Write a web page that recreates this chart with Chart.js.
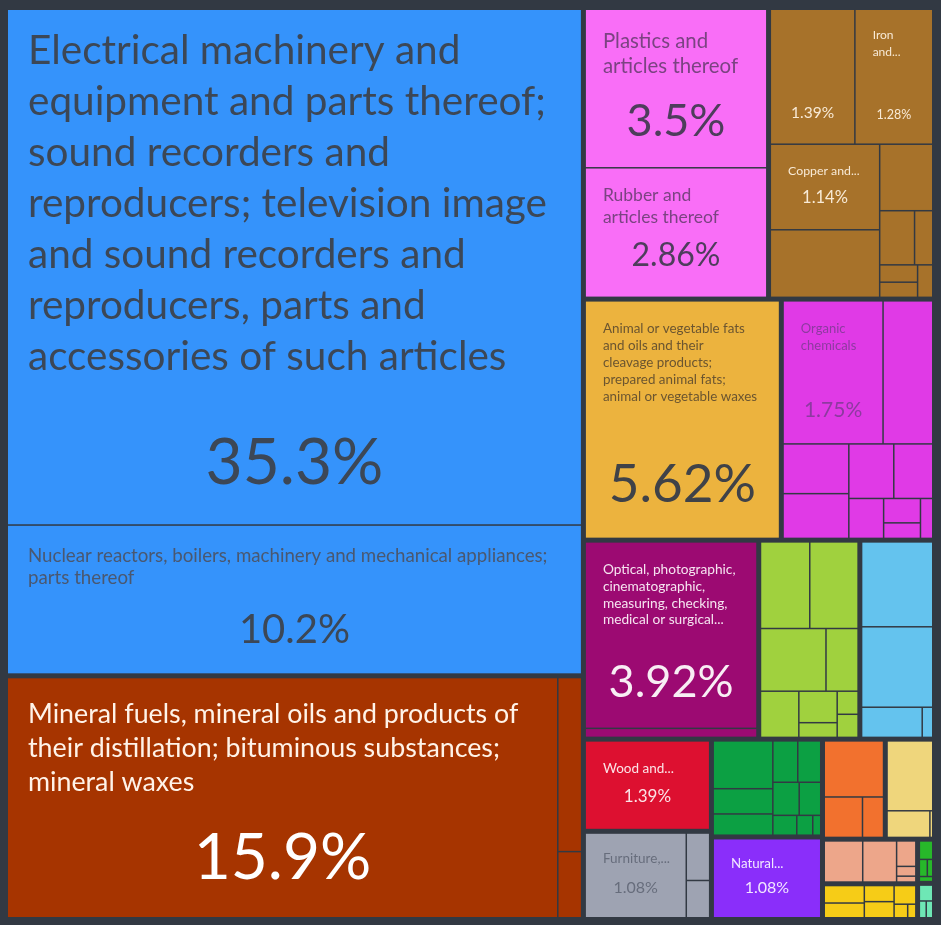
<!DOCTYPE html>
<html>
<head>
<meta charset="utf-8">
<script src="https://cdn.jsdelivr.net/npm/chart.js@4.4.1/dist/chart.umd.min.js"></script>
<style>
  html, body { margin: 0; padding: 0; background: #323943; }
  #wrap { width: 941px; height: 925px; }
</style>
</head>
<body>
<div id="wrap"><canvas id="c" width="941" height="925"></canvas></div>
<script>
// ---------------- DATA (share of total, %) ----------------
const sectionKeys = ['machinery','mineral','plastics','metals','fats','chemicals','instruments','foodstuffs','vegetable','wood','misc','textiles','precious','transport','paper','stone','footwear','animal','hides'];
const sectionNames = ['Machinery','Mineral Products','Plastics and Rubbers','Metals','Animal and Vegetable Bi-Products','Chemical Products','Instruments','Foodstuffs','Vegetable Products','Wood Products','Miscellaneous','Textiles','Precious Metals','Transportation','Paper Goods','Stone And Glass','Footwear and Headwear','Animal Products','Animal Hides'];

const machineryValues   = [35.3, 10.2];
const mineralValues     = [15.9, 0.5, 0.19];
const plasticsValues    = [3.5, 2.86];
const metalsValues      = [1.39, 1.28, 1.14, 0.9, 0.43, 0.23, 0.12, 0.08, 0.07, 0.06];
const fatsValues        = [5.62];
const chemicalsValues   = [1.75, 0.87, 0.4, 0.36, 0.3, 0.26, 0.17, 0.11, 0.07, 0.06];
const instrumentsValues = [3.92, 0.19];
const foodstuffsValues  = [0.53, 0.52, 0.51, 0.25, 0.22, 0.15, 0.07, 0.06, 0.06];
const vegetableValues   = [0.76, 0.72, 0.23, 0.04];
const woodValues        = [1.39];
const miscValues        = [1.08, 0.14, 0.11];
const textilesValues    = [0.36, 0.19, 0.16, 0.13, 0.12, 0.11, 0.09, 0.06, 0.04, 0.02];
const preciousValues    = [1.08];
const transportValues   = [0.43, 0.2, 0.11];
const paperValues       = [0.42, 0.15, 0.01];
const stoneValues       = [0.21, 0.185, 0.065, 0.025, 0.015];
const footwearValues    = [0.095, 0.08, 0.065, 0.065, 0.055, 0.025, 0.015];
const animalValues      = [0.04, 0.022, 0.015, 0.011];
const hidesValues       = [0.035, 0.019, 0.018];

const machineryLabels   = ['Electrical machinery and equipment and parts thereof; sound recorders and reproducers; television image and sound recorders and reproducers, parts and accessories of such articles',
                           'Nuclear reactors, boilers, machinery and mechanical appliances; parts thereof'];
const mineralLabels     = ['Mineral fuels, mineral oils and products of their distillation; bituminous substances; mineral waxes'];
const plasticsLabels    = ['Plastics and articles thereof', 'Rubber and articles thereof'];
const metalsLabels      = ['', 'Iron and...', 'Copper and...'];
const fatsLabels        = ['Animal or vegetable fats and oils and their cleavage products; prepared animal fats; animal or vegetable waxes'];
const chemicalsLabels   = ['Organic chemicals'];
const instrumentsLabels = ['Optical, photographic, cinematographic, measuring, checking, medical or surgical...'];
const woodLabels        = ['Wood and...'];
const miscLabels        = ['Furniture,...'];
const preciousLabels    = ['Natural...'];

const sectionValues = {machinery: machineryValues, mineral: mineralValues, plastics: plasticsValues, metals: metalsValues,
  fats: fatsValues, chemicals: chemicalsValues, instruments: instrumentsValues, foodstuffs: foodstuffsValues,
  vegetable: vegetableValues, wood: woodValues, misc: miscValues, textiles: textilesValues, precious: preciousValues,
  transport: transportValues, paper: paperValues, stone: stoneValues, footwear: footwearValues, animal: animalValues, hides: hidesValues};
const sectionLabels = {machinery: machineryLabels, mineral: mineralLabels, plastics: plasticsLabels, metals: metalsLabels,
  fats: fatsLabels, chemicals: chemicalsLabels, instruments: instrumentsLabels, wood: woodLabels, misc: miscLabels, precious: preciousLabels};

// ---------------- STYLES ----------------
const sectionColors = {machinery:'#3593fb', mineral:'#a63400', plastics:'#f96ef7', metals:'#a7722a', fats:'#ecb33e',
  chemicals:'#e03ae6', instruments:'#9c0a72', foodstuffs:'#a0d13e', vegetable:'#64c3ee', wood:'#dd1030', misc:'#9ea3b2',
  textiles:'#0ca043', precious:'#8a2efa', transport:'#f2712e', paper:'#efd67c', stone:'#eda68a', footwear:'#f6cc17',
  animal:'#27b82a', hides:'#6ee7b5'};
const BG = '#323943';
const FONT = 'Lato, "Open Sans", sans-serif';
// t: title px, lh: line height, wl: words per line, px/tp: title padding, s: share px, sb: share centre above bottom
const labelStyles = {
  'machinery-0':   {t:40.5, lh:51, wl:[3,4,3,3,4,3,4], px:20, tp:15.5, s:64, sb:61, tc:'#3c4756', sc:'#3c4756'},
  'machinery-1':   {t:18.7, lh:22, wl:[7,2], px:20, tp:19, s:40, sb:43, tc:'#4a5870', sc:'#3c4756'},
  'mineral-0':     {t:26.8, lh:34, wl:[7,4,2], px:20, tp:19, s:64, sb:59, tc:'#fff3e8', sc:'#ffffff'},
  'plastics-0':    {t:20.4, lh:25, wl:[2,2], tp:18.5, s:45, sb:46, tc:'#7b4382', sc:'#4e3d5c'},
  'plastics-1':    {t:17.5, lh:22, wl:[2,2], tp:16, s:32, sb:41, tc:'#7b4382', sc:'#4e3d5c'},
  'metals-0':      {t:12,   lh:17, s:15.5, sb:30, tc:'#f8ead6', sc:'#f8ead6'},
  'metals-1':      {t:12,   lh:17, wl:[1,1], tp:16.5, s:12.5, sb:28, tc:'#f8ead6', sc:'#f8ead6'},
  'metals-2':      {t:12.3, lh:17, wl:[2], tp:17.5, s:16.5, sb:31, tc:'#f8ead6', sc:'#f8ead6'},
  'fats-0':        {t:13.4, lh:17, wl:[4,4,2,3,4], tp:18.5, s:53, sb:53, tc:'#6b5530', sc:'#3f4248'},
  'chemicals-0':   {t:13,   lh:17, wl:[1,1], tp:18.5, s:21, sb:33, tc:'#8d3aa0', sc:'#8d3aa0'},
  'instruments-0': {t:13.7, lh:16.7, wl:[2,1,2,3], tp:18.7, s:45, sb:45, tc:'#f6e4f0', sc:'#f8eef4'},
  'wood-0':        {t:13.5, lh:17, wl:[2], tp:18.5, s:17, sb:32, tc:'#fbe3e6', sc:'#fbe3e6'},
  'misc-0':        {t:13.5, lh:17, wl:[1], tp:16.5, s:16, sb:29, tc:'#676d7c', sc:'#676d7c'},
  'precious-0':    {t:13.3, lh:17, wl:[1], tp:15.5, s:16, sb:29, tc:'#f1e6ff', sc:'#f1e6ff'}
};
const SECTION_GAP = 3.5, CHILD_GAP = 1.5;

// ---------------- LAYOUT (d3-style squarify, golden ratio) ----------------
const PHI = (1 + Math.sqrt(5)) / 2;
function squarify(nodes, x0, y0, x1, y1, kx, ky) {
  let value = nodes.reduce((s, n) => s + n.value, 0);
  let i0 = 0, i1 = 0; const n = nodes.length;
  while (i0 < n) {
    const dx = (x1 - x0) * kx, dy = (y1 - y0) * ky;
    let sumValue = nodes[i1++].value, minV = sumValue, maxV = sumValue;
    const alpha = Math.max(dy / dx, dx / dy) / (value * PHI);
    let beta = sumValue * sumValue * alpha;
    let minRatio = Math.max(maxV / beta, beta / minV);
    for (; i1 < n; ++i1) {
      const nv = nodes[i1].value;
      sumValue += nv;
      if (nv < minV) minV = nv;
      if (nv > maxV) maxV = nv;
      beta = sumValue * sumValue * alpha;
      const nr = Math.max(maxV / beta, beta / minV);
      if (nr > minRatio) { sumValue -= nv; break; }
      minRatio = nr;
    }
    const row = nodes.slice(i0, i1);
    if (dx < dy) {
      const yy = y0 + (y1 - y0) * sumValue / value;
      let x = x0;
      row.forEach(nd => { const w = (x1 - x0) * nd.value / sumValue; nd.x0 = x; nd.x1 = x + w; nd.y0 = y0; nd.y1 = yy; x += w; });
      y0 = yy;
    } else {
      const xx = x0 + (x1 - x0) * sumValue / value;
      let y = y0;
      row.forEach(nd => { const h = (y1 - y0) * nd.value / sumValue; nd.x0 = x0; nd.x1 = xx; nd.y0 = y; nd.y1 = y + h; y += h; });
      x0 = xx;
    }
    value -= sumValue; i0 = i1;
  }
}

function fmtShare(v) { return String(+v.toPrecision(3)) + '%'; }

function splitLines(ctx, text, wl, maxW) {
  const words = text.split(' ');
  if (wl) {
    const out = []; let k = 0;
    wl.forEach(c => { out.push(words.slice(k, k + c).join(' ')); k += c; });
    return out;
  }
  const lines = []; let cur = '';
  words.forEach(w => {
    const test = cur ? cur + ' ' + w : w;
    if (cur && ctx.measureText(test).width > maxW) { lines.push(cur); cur = w; }
    else cur = test;
  });
  if (cur) lines.push(cur);
  return lines;
}

const bgPlugin = {
  id: 'bg',
  beforeDraw(chart) {
    const c = chart.ctx; c.save(); c.fillStyle = BG; c.fillRect(0, 0, chart.width, chart.height); c.restore();
  }
};

const treemapPlugin = {
  id: 'treemap',
  afterDatasetsDraw(chart) {
    const xs = chart.scales.x, ys = chart.scales.y, ctx = chart.ctx;
    const kx = Math.abs(xs.getPixelForValue(1) - xs.getPixelForValue(0));
    const ky = Math.abs(ys.getPixelForValue(1) - ys.getPixelForValue(0));
    const sections = sectionKeys.map((k, i) => ({
      key: k, name: sectionNames[i],
      children: sectionValues[k].map((v, j) => ({value: v, idx: j, label: (sectionLabels[k] || [])[j] || ''})),
    }));
    sections.forEach(s => { s.value = s.children.reduce((a, c) => a + c.value, 0); s.children.sort((a, b) => b.value - a.value); });
    sections.sort((a, b) => b.value - a.value);
    squarify(sections, xs.min, ys.min, xs.max, ys.max, kx, ky);
    const sgx = SECTION_GAP / 2 / kx, sgy = SECTION_GAP / 2 / ky;
    const cgx = CHILD_GAP / 2 / kx, cgy = CHILD_GAP / 2 / ky;
    const cells = [];
    sections.forEach(s => {
      squarify(s.children, s.x0 + sgx, s.y0 + sgy, s.x1 - sgx, s.y1 - sgy, kx, ky);
      s.children.forEach(c => {
        const px0 = xs.getPixelForValue(c.x0 + cgx), px1 = xs.getPixelForValue(c.x1 - cgx);
        const py0 = ys.getPixelForValue(c.y0 + cgy), py1 = ys.getPixelForValue(c.y1 - cgy);
        cells.push({sec: s.key, idx: c.idx, value: c.value, label: c.label,
          x: Math.min(px0, px1), y: Math.min(py0, py1), w: Math.abs(px1 - px0), h: Math.abs(py1 - py0)});
      });
    });
    ctx.save();
    cells.forEach(c => {
      ctx.fillStyle = sectionColors[c.sec];
      ctx.fillRect(c.x, c.y, c.w, c.h);
    });
    cells.forEach(c => {
      const st = labelStyles[c.sec + '-' + c.idx];
      if (!st) return;
      const px = st.px || 17, tp = st.tp || 18;
      ctx.textBaseline = 'middle';
      if (c.label) {
        ctx.font = st.t + 'px ' + FONT;
        ctx.fillStyle = st.tc;
        ctx.textAlign = 'left';
        const lines = splitLines(ctx, c.label, st.wl, c.w - 2 * px);
        lines.forEach((ln, i) => ctx.fillText(ln, c.x + px, c.y + tp + st.lh / 2 + i * st.lh));
      }
      ctx.font = st.s + 'px ' + FONT;
      ctx.fillStyle = st.sc;
      ctx.textAlign = 'center';
      ctx.fillText(fmtShare(c.value), c.x + c.w / 2, c.y + c.h - st.sb);
    });
    ctx.restore();
  }
};

new Chart(document.getElementById('c'), {
  type: 'scatter',
  data: { datasets: [{ label: 'Exports', data: [] }] },
  options: {
    responsive: false,
    animation: false,
    layout: { padding: { left: 5.5, top: 7.5, right: 6.5, bottom: 5.5 } },
    scales: {
      x: { type: 'linear', min: 0, max: 100, display: false },
      y: { type: 'linear', min: 0, max: 100, reverse: true, display: false }
    },
    plugins: { legend: { display: false }, tooltip: { enabled: false }, title: { display: false } }
  },
  plugins: [bgPlugin, treemapPlugin]
});
</script>
</body>
</html>
